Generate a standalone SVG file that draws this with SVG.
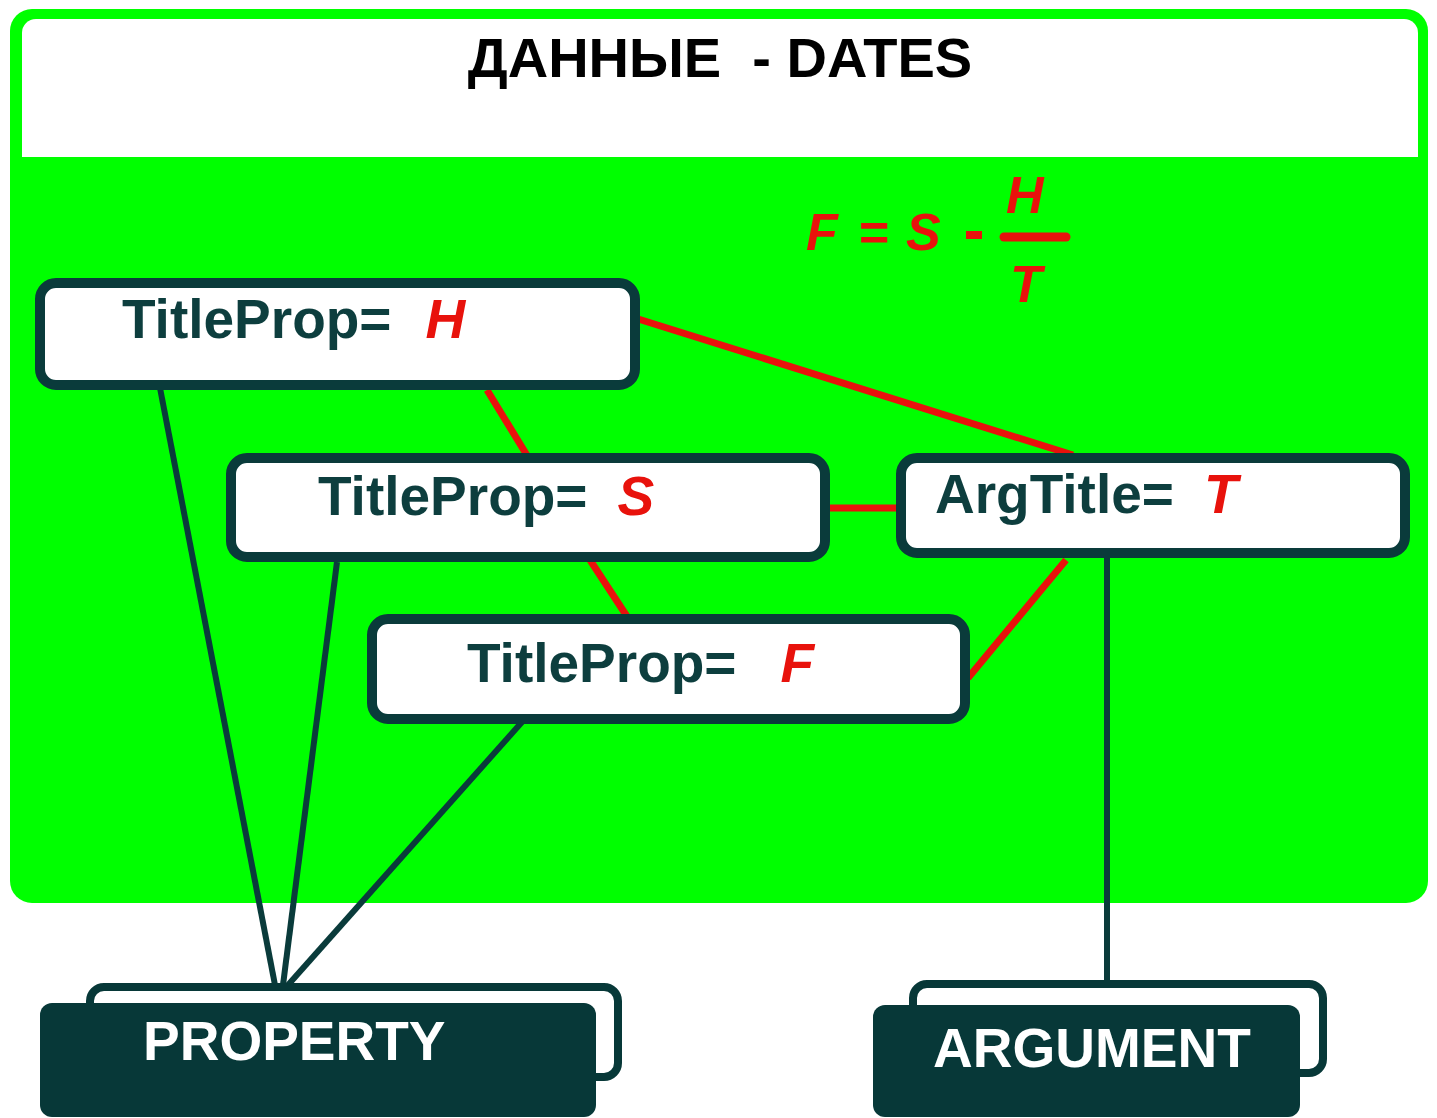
<svg xmlns="http://www.w3.org/2000/svg" width="1437" height="1118" viewBox="0 0 1437 1118">
  <style>
    .node { fill: #ffffff; stroke: #0a3b3b; stroke-width: 10; }
    .base { fill: #073838; }
    .back { fill: #ffffff; stroke: #073838; stroke-width: 8; }
    .lbl { font-family: "Liberation Sans", Arial, sans-serif; font-weight: bold; font-size: 55px; fill: #0d3e3e; }
    .var { font-family: "Liberation Sans", Arial, sans-serif; font-weight: bold; font-style: italic; font-size: 55px; fill: #e8120c; }
    .big { font-family: "Liberation Sans", Arial, sans-serif; font-weight: bold; font-size: 55px; fill: #ffffff; }
    .red { stroke: #e8120c; stroke-width: 7; fill: none; }
    .dark { stroke: #0a3b3b; stroke-width: 6; fill: none; }
    .formula { font-family: "Liberation Sans", Arial, sans-serif; font-weight: bold; font-style: italic; font-size: 52px; fill: #e8120c; }
  </style>

  <rect width="1437" height="1118" fill="#ffffff"/>

  <!-- container: green panel with white title strip -->
  <g id="dates">
    <rect x="10" y="9" width="1418" height="894" rx="22" fill="#00ff00"/>
    <rect x="22" y="19" width="1396" height="138" rx="14" fill="#ffffff"/>
    <rect x="22" y="60" width="1396" height="97" fill="#ffffff"/>
    <text x="720" y="77" text-anchor="middle" font-family="Liberation Sans, Arial, sans-serif" font-weight="bold" font-size="56" fill="#000000" xml:space="preserve">ДАННЫЕ  - DATES</text>
  </g>

  <!-- formula F = S - H/T -->
  <g id="formula">
    <text class="formula" x="806" y="250">F</text>
    <text class="formula" x="858" y="250">=</text>
    <text class="formula" x="906" y="250">S</text>
    <rect x="966" y="231" width="16" height="8" fill="#e8120c"/>
    <text class="formula" x="1006" y="213">H</text>
    <line x1="1004" y1="237" x2="1066" y2="237" stroke="#e8120c" stroke-width="9" stroke-linecap="round"/>
    <text class="formula" x="1010" y="302">T</text>
  </g>

  <!-- connectors -->
  <g id="connectors">
    <line class="red" x1="635" y1="318" x2="1073" y2="455"/>
    <line class="red" x1="487" y1="390" x2="528" y2="457"/>
    <line class="red" x1="825" y1="508" x2="900" y2="508"/>
    <line class="red" x1="590" y1="560" x2="628" y2="618"/>
    <line class="red" x1="1066" y1="560" x2="968" y2="678"/>
    <line class="dark" x1="160" y1="388" x2="275" y2="985"/>
    <line class="dark" x1="337" y1="562" x2="283" y2="985"/>
    <line class="dark" x1="522" y1="722" x2="288" y2="985"/>
    <line class="dark" x1="1107" y1="558" x2="1107" y2="982"/>
  </g>

  <g id="titleprop-h">
    <rect class="node" x="40" y="283" width="595" height="102" rx="16"/>
    <text x="122" y="338"><tspan class="lbl">TitleProp=</tspan><tspan class="var" dx="34">H</tspan></text>
  </g>

  <g id="titleprop-s">
    <rect class="node" x="231" y="458" width="594" height="99" rx="16"/>
    <text x="318" y="515"><tspan class="lbl">TitleProp=</tspan><tspan class="var" dx="30">S</tspan></text>
  </g>

  <g id="titleprop-f">
    <rect class="node" x="372" y="619" width="593" height="100" rx="16"/>
    <text x="467" y="682"><tspan class="lbl">TitleProp=</tspan><tspan class="var" dx="44">F</tspan></text>
  </g>

  <g id="argtitle-t">
    <rect class="node" x="901" y="458" width="504" height="95" rx="16"/>
    <text x="935" y="513"><tspan class="lbl">ArgTitle=</tspan><tspan class="var" dx="30">T</tspan></text>
  </g>

  <g id="property">
    <rect class="back" x="90" y="987" width="528" height="90" rx="14"/>
    <rect class="base" x="40" y="1003" width="556" height="114" rx="12"/>
    <text class="big" x="143" y="1060">PROPERTY</text>
  </g>

  <g id="argument">
    <rect class="back" x="913" y="984" width="410" height="89" rx="14"/>
    <rect class="base" x="873" y="1005" width="427" height="112" rx="12"/>
    <text class="big" x="933" y="1067">ARGUMENT</text>
  </g>
</svg>
